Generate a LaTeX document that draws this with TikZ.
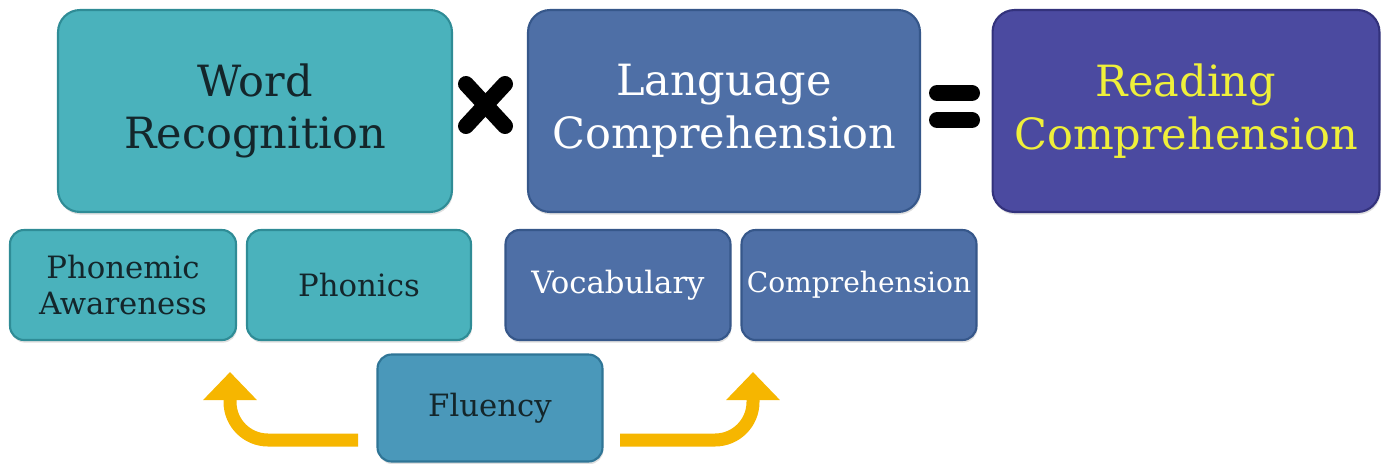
\documentclass[tikz,border=0pt]{standalone}
\usepackage{fontspec}
\setmainfont{DejaVu Serif}
\usetikzlibrary{arrows.meta,shadows}

\definecolor{wrteal}{HTML}{4AB2BC}
\definecolor{wredge}{HTML}{2F8C96}
\definecolor{lcblue}{HTML}{4E6FA6}
\definecolor{lcedge}{HTML}{36578A}
\definecolor{rcindigo}{HTML}{4B4AA0}
\definecolor{rcedge}{HTML}{33327C}
\definecolor{flblue}{HTML}{4A98BA}
\definecolor{fledge}{HTML}{2F7596}
\definecolor{darktext}{HTML}{14262B}
\definecolor{rcyellow}{HTML}{EFF03A}
\definecolor{arroworange}{HTML}{F6B600}

\tikzset{
	tile/.style = {rectangle, inner sep=0pt, align=center, line width=1.2pt,
		drop shadow={opacity=0.25, shadow xshift=0.5pt, shadow yshift=-1.5pt}},
	bigtile/.style = {tile, rounded corners=0.44cm, minimum height=4.04cm,
		font=\fontsize{24.5}{30}\selectfont},
	smalltile/.style = {tile, rounded corners=0.28cm, minimum height=2.2cm,
		font=\fontsize{17.5}{21}\selectfont},
	opbar/.style = {line width=0.32cm, line cap=round, black},
	flow/.style = {line width=0.26cm, arroworange, rounded corners=0.76cm,
		-{Triangle[width=1.04cm, length=0.56cm]}},
}

\begin{document}
\begin{tikzpicture}[x=0.02cm, y=-0.02cm]
	\useasboundingbox (0, 0) rectangle (1381, 463);

	% top row
	\node (WordRec) [bigtile, fill=wrteal, draw=wredge, text=darktext,
		minimum width=7.88cm] at (255, 111) {Word\\Recognition};
	\node (LangComp) [bigtile, fill=lcblue, draw=lcedge, text=white,
		minimum width=7.84cm] at (724, 111) {Language\\Comprehension};
	\node (ReadComp) [bigtile, fill=rcindigo, draw=rcedge, text=rcyellow,
		minimum width=7.74cm] at (1186, 111) {Reading\\Comprehension};

	% times and equals
	\draw[opbar] (466, 84) -- (505, 126);
	\draw[opbar] (466, 126) -- (505, 84);
	\draw[opbar] (937, 93) -- (972, 93);
	\draw[opbar] (937, 120) -- (972, 120);

	% second row
	\node (PhonAware) [smalltile, fill=wrteal, draw=wredge, text=darktext,
		minimum width=4.52cm] at (123, 285) {Phonemic\\Awareness};
	\node (Phonics) [smalltile, fill=wrteal, draw=wredge, text=darktext,
		minimum width=4.48cm] at (359, 285) {Phonics};
	\node (Vocab) [smalltile, fill=lcblue, draw=lcedge, text=white,
		minimum width=4.5cm] at (618, 285) {Vocabulary};
	\node (Compre) [smalltile, fill=lcblue, draw=lcedge, text=white,
		minimum width=4.7cm, font=\fontsize{16}{20}\selectfont]
		at (859, 285) {Comprehension};

	% fluency
	\node (Fluency) [smalltile, fill=flblue, draw=fledge, text=darktext,
		minimum width=4.5cm, minimum height=2.14cm] at (490, 408) {Fluency};

	\coordinate (flLeft)  at (358, 440);
	\coordinate (flRight) at (620, 440);
	\coordinate (paTip)   at (230, 372);
	\coordinate (coTip)   at (753, 372);
	\draw[flow] (flLeft) -| (paTip);
	\draw[flow] (flRight) -| (coTip);
\end{tikzpicture}
\end{document}
